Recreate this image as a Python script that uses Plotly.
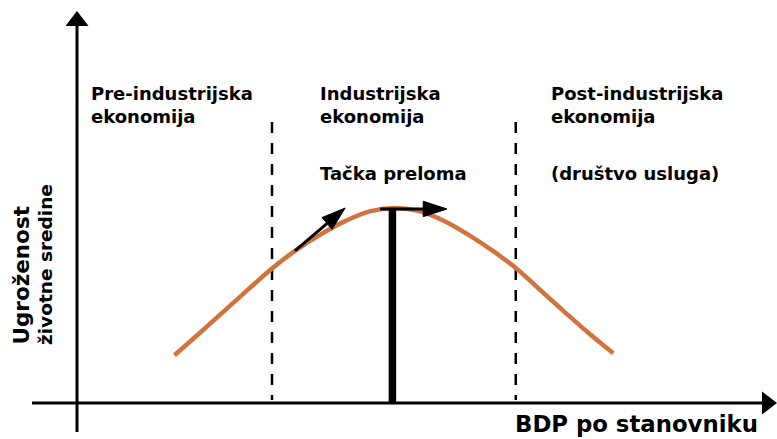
import plotly.graph_objects as go

# ---- data (x: GDP per capita, y: environmental threat; arbitrary units) ----
gdp = [2, 2.5, 3, 3.5, 4, 4.5, 5, 5.5, 6, 6.5, 7, 7.5, 8, 8.5, 9, 9.5, 10, 10.5, 11]
threat = [0.98, 1.42, 1.87, 2.32, 2.76, 3.14, 3.46, 3.73, 3.93, 4.0,
          3.94, 3.75, 3.47, 3.14, 2.77, 2.32, 1.87, 1.43, 1.02]
boundaries = [4, 9]
peak_x = 6.47
peak_y = 4.0
rise_arrow_x = [4.47, 5.5]
rise_arrow_y = [3.12, 4.0]
turn_arrow_x = [6.22, 7.59]
turn_arrow_y = [3.98, 3.98]
region_labels = ["Pre-industrijska<br>ekonomija", "Industrijska<br>ekonomija",
                 "Post-industrijska<br>ekonomija"]
sub_labels = ["", "Tačka preloma", "(društvo usluga)"]
x_title = "BDP po stanovniku"
y_title_lines = ["Ugroženost", "životne sredine"]

W, H = 777, 439
UNIT = 48.75            # pixels per data unit
X0_PX, Y0_PX = 77, 403  # pixel of the origin
x_range = [-X0_PX / UNIT, (W - X0_PX) / UNIT]
y_range = [-(H - Y0_PX) / UNIT, Y0_PX / UNIT]


def px_x(p):
    return (p - X0_PX) / UNIT


def px_y(p):
    return (Y0_PX - p) / UNIT


FONT = "DejaVu Sans"
ORANGE = "#D1733F"

fig = go.Figure()

# curve
fig.add_trace(go.Scatter(x=gdp, y=threat, mode="lines",
                         line=dict(color=ORANGE, width=4.5, shape="spline", smoothing=1.0),
                         hoverinfo="skip", showlegend=False))

# peak bar
fig.add_trace(go.Scatter(x=[peak_x, peak_x], y=[0, peak_y], mode="lines",
                         line=dict(color="black", width=7.5),
                         hoverinfo="skip", showlegend=False))

# arrows on curve
for ax_, ay_ in [(rise_arrow_x, rise_arrow_y), (turn_arrow_x, turn_arrow_y)]:
    fig.add_trace(go.Scatter(x=ax_, y=ay_, mode="lines+markers",
                             line=dict(color="black", width=3),
                             marker=dict(symbol="arrow", size=[0, 25], color="#000000",
                                         opacity=1, angleref="previous",
                                         line=dict(width=1, color="#000000")),
                             opacity=1,
                             cliponaxis=False, hoverinfo="skip", showlegend=False))

# axes lines with arrowheads
y_top_c = px_y(21)
x_right_c = px_x(767)
fig.add_trace(go.Scatter(x=[0, 0], y=[px_y(432), y_top_c], mode="lines",
                         line=dict(color="black", width=3),
                         hoverinfo="skip", showlegend=False))
fig.add_trace(go.Scatter(x=[px_x(32), x_right_c], y=[0, 0], mode="lines",
                         line=dict(color="black", width=3),
                         hoverinfo="skip", showlegend=False))
fig.add_trace(go.Scatter(x=[0], y=[y_top_c], mode="markers",
                         marker=dict(symbol="triangle-up", size=20, color="black",
                                     line=dict(width=0)),
                         cliponaxis=False, hoverinfo="skip", showlegend=False))
fig.add_trace(go.Scatter(x=[x_right_c], y=[0], mode="markers",
                         marker=dict(symbol="triangle-right", size=20, color="black",
                                     line=dict(width=0)),
                         cliponaxis=False, hoverinfo="skip", showlegend=False))

# dashed boundaries
for b in boundaries:
    fig.add_shape(type="line", x0=b, x1=b, y0=px_y(122), y1=px_y(400),
                  line=dict(color="black", width=2.5, dash="11px,10px"), layer="below")

# region labels
label_px = [89, 318, 548.5]
lab_font = dict(family=FONT, size=18, color="black", weight=700)
for lp, lab, sub in zip(label_px, region_labels, sub_labels):
    fig.add_annotation(x=px_x(lp), y=px_y(81), text=lab, showarrow=False,
                       xanchor="left", yanchor="top", align="left", font=lab_font)
    if sub:
        fig.add_annotation(x=px_x(lp), y=px_y(161), text=sub, showarrow=False,
                           xanchor="left", yanchor="top", align="left", font=lab_font)

# axis titles
fig.add_annotation(x=px_x(513), y=px_y(438.5), text=x_title,
                   showarrow=False, xanchor="left", yanchor="bottom",
                   font=dict(family=FONT, size=22.8, color="black", weight=700))
for cx, size, line in zip([20.5, 45.5], [21.5, 18.5], y_title_lines):
    fig.add_annotation(x=px_x(cx), y=px_y(347), text=line,
                       showarrow=False, textangle=-90, xanchor="center", yanchor="bottom",
                       font=dict(family=FONT, size=size, color="black", weight=700))

fig.update_layout(
    width=W, height=H, margin=dict(l=0, r=0, t=0, b=0),
    paper_bgcolor="white", plot_bgcolor="white",
    xaxis=dict(range=x_range, visible=False, fixedrange=True),
    yaxis=dict(range=y_range, visible=False, fixedrange=True),
    showlegend=False,
)

fig.write_html("out.html", config={"displayModeBar": False},
               post_script="document.body.style.margin='0';document.body.style.overflow='hidden';")
